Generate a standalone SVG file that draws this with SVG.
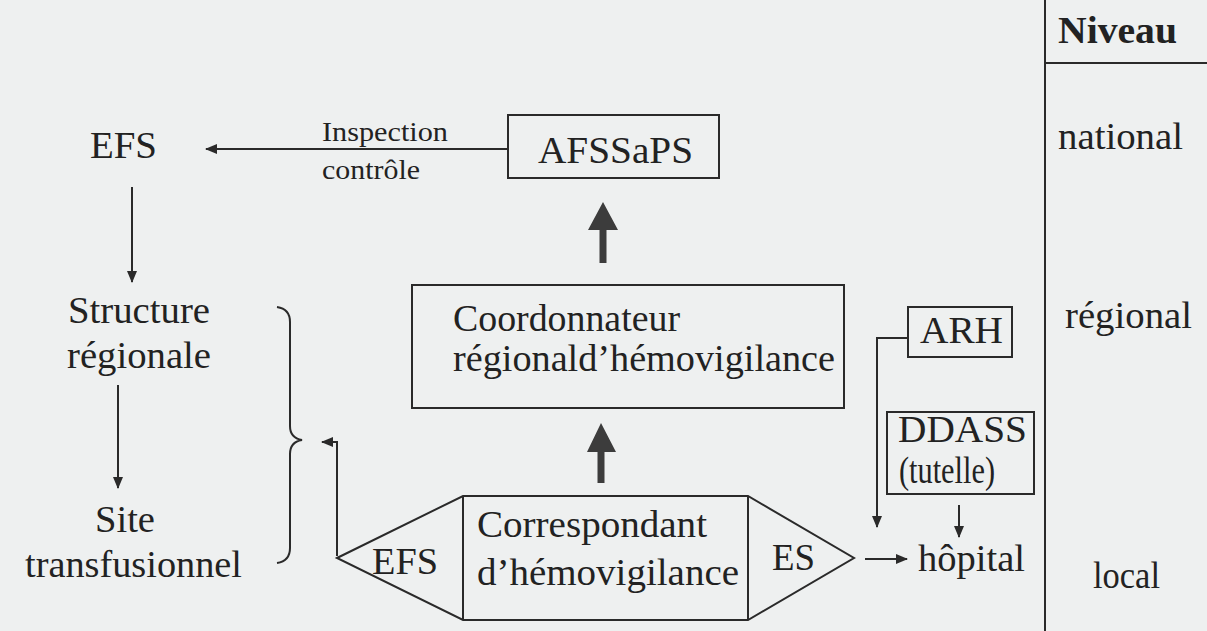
<svg xmlns="http://www.w3.org/2000/svg" width="1207" height="631" viewBox="0 0 1207 631">
<defs>
<style>
.t{font-family:"Liberation Serif","Times New Roman",serif;fill:#222;font-size:38px}
.s{font-size:27px}
.b{font-weight:bold}
.ln{fill:none;stroke:#2a2a2a;stroke-width:2}
.box{fill:none;stroke:#2a2a2a;stroke-width:2}
.thick{fill:#3c3c3c;stroke:none}
</style>
<marker id="ah" markerUnits="userSpaceOnUse" markerWidth="12" markerHeight="10" refX="11" refY="5" orient="auto">
<path d="M0,0 L12,5 L0,10 z" fill="#2a2a2a"/>
</marker>
</defs>
<rect width="1207" height="631" fill="#eef0f0"/>

<g id="levels">
<line class="ln" x1="1045" y1="0" x2="1045" y2="631"/>
<line class="ln" x1="1045" y1="63" x2="1207" y2="63"/>
<text class="t b" x="1058" y="43" font-size="32" textLength="119" lengthAdjust="spacingAndGlyphs">Niveau</text>
<text class="t" x="1058" y="149" textLength="125" lengthAdjust="spacingAndGlyphs">national</text>
<text class="t" x="1065" y="328" textLength="127" lengthAdjust="spacingAndGlyphs">régional</text>
<text class="t" x="1093" y="588" textLength="67" lengthAdjust="spacingAndGlyphs">local</text>
</g>

<g id="connectors">
<line class="ln" x1="508" y1="149" x2="206" y2="149" marker-end="url(#ah)"/>
<line class="ln" x1="132" y1="187" x2="132" y2="282" marker-end="url(#ah)"/>
<line class="ln" x1="118" y1="385" x2="118" y2="488" marker-end="url(#ah)"/>
<polyline class="ln" points="337,556 337,442 322,442" marker-end="url(#ah)"/>
<path class="ln" d="M277,307 Q290,309 290,322 L290,426 Q290,438 302,440 Q290,442 290,454 L290,548 Q290,561 277,563"/>
<polyline class="ln" points="908,338 877,338 877,527" marker-end="url(#ah)"/>
<line class="ln" x1="959" y1="505" x2="959" y2="537" marker-end="url(#ah)"/>
<line class="ln" x1="865" y1="559" x2="907" y2="559" marker-end="url(#ah)"/>
<path class="thick" d="M599.5,263 L599.5,230 L588,230 L603,202 L618,230 L606.5,230 L606.5,263 z"/>
<path class="thick" d="M597.5,483 L597.5,452 L587,452 L601,423 L616,452 L604.5,452 L604.5,483 z"/>
</g>

<g id="efs-top">
<text class="t" x="90" y="158" textLength="67" lengthAdjust="spacingAndGlyphs">EFS</text>
</g>
<g id="inspection-label">
<text class="t s" x="322" y="141" textLength="126" lengthAdjust="spacingAndGlyphs">Inspection</text>
<text class="t s" x="322" y="179" textLength="98" lengthAdjust="spacingAndGlyphs">contrôle</text>
</g>
<g id="afssaps">
<rect class="box" x="508" y="115" width="211" height="63"/>
<text class="t" x="538" y="163" textLength="155" lengthAdjust="spacingAndGlyphs">AFSSaPS</text>
</g>
<g id="structure-regionale">
<text class="t" x="68" y="323" textLength="142" lengthAdjust="spacingAndGlyphs">Structure</text>
<text class="t" x="67" y="368" textLength="144" lengthAdjust="spacingAndGlyphs">régionale</text>
</g>
<g id="site-transfusionnel">
<text class="t" x="95" y="532" textLength="60" lengthAdjust="spacingAndGlyphs">Site</text>
<text class="t" x="25" y="577" textLength="217" lengthAdjust="spacingAndGlyphs">transfusionnel</text>
</g>
<g id="coordonnateur">
<rect class="box" x="412" y="285" width="432" height="123"/>
<text class="t" x="453" y="331" font-size="32" textLength="227" lengthAdjust="spacingAndGlyphs">Coordonnateur</text>
<text class="t" x="453" y="371" font-size="32" textLength="382" lengthAdjust="spacingAndGlyphs">régionald’hémovigilance</text>
</g>
<g id="correspondant">
<polygon class="box" points="337,558 463,496 748,496 854,558 748,620 463,620"/>
<line class="ln" x1="463" y1="496" x2="463" y2="620"/>
<line class="ln" x1="748" y1="496" x2="748" y2="620"/>
<text class="t" x="372" y="574" textLength="66" lengthAdjust="spacingAndGlyphs">EFS</text>
<text class="t" x="477" y="537" font-size="36" textLength="230" lengthAdjust="spacingAndGlyphs">Correspondant</text>
<text class="t" x="477" y="585" font-size="36" textLength="262" lengthAdjust="spacingAndGlyphs">d’hémovigilance</text>
<text class="t" x="772" y="570" textLength="43" lengthAdjust="spacingAndGlyphs">ES</text>
</g>
<g id="arh">
<rect class="box" x="908" y="307" width="104" height="50"/>
<text class="t" x="920" y="343" textLength="83" lengthAdjust="spacingAndGlyphs">ARH</text>
</g>
<g id="ddass">
<rect class="box" x="887" y="412" width="147" height="82"/>
<text class="t" x="898" y="442" font-size="32" textLength="129" lengthAdjust="spacingAndGlyphs">DDASS</text>
<text class="t" x="899" y="483" font-size="25" textLength="96" lengthAdjust="spacingAndGlyphs">(tutelle)</text>
</g>
<g id="hopital">
<text class="t" x="918" y="571" textLength="107" lengthAdjust="spacingAndGlyphs">hôpital</text>
</g>
</svg>
